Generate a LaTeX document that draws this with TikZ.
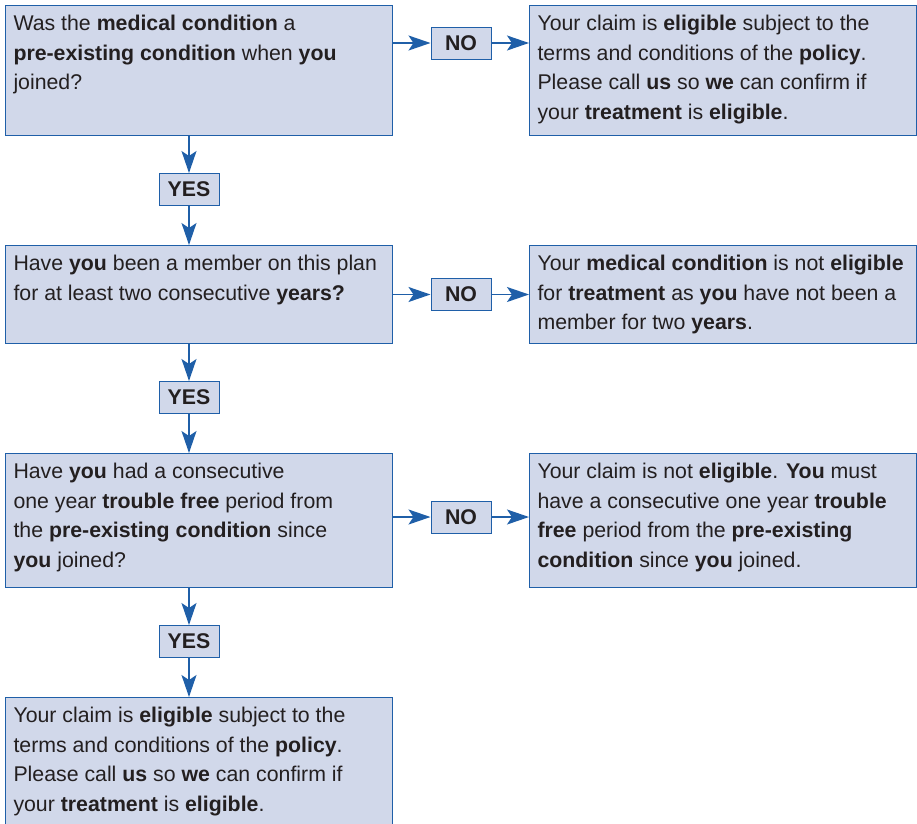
\documentclass[tikz,border=0pt]{standalone}
\usepackage{fontspec}
\setmainfont{Liberation Sans}
\usetikzlibrary{positioning, calc, arrows.meta}

\definecolor{boxfill}{HTML}{D1D8EA}
\definecolor{boxline}{HTML}{1F5FA8}
\definecolor{ink}{HTML}{231F20}

\newcommand{\boxtext}[2]{\parbox[t][#1pt][t]{371pt}{\raggedright\rule{0pt}{25pt}#2}}

\tikzset{
    qbox/.style={draw=boxline, fill=boxfill, line width=1pt, anchor=north west,
        inner xsep=8pt, inner ysep=0pt, text=ink,
        font=\fontsize{21.3}{29.5}\selectfont},
    tag/.style={draw=boxline, fill=boxfill, line width=1pt, minimum width=60pt,
        minimum height=32pt, inner sep=0pt, text=ink,
        font=\fontsize{21.3}{22}\selectfont\bfseries},
    arr/.style={-{Stealth[length=22pt, width=15pt, inset=5pt]}, draw=boxline,
        fill=boxline, line width=1.4pt}
}

\begin{document}
\begin{tikzpicture}[x=1pt, y=-1pt]
    \useasboundingbox (0,0) rectangle (917,823);

    % questions on the left
    \node[qbox] (q1) at (5,5) {\boxtext{130}{Was the \textbf{medical condition} a\\
        \textbf{pre-existing condition} when \textbf{you}\\ joined?}};
    \node[qbox] (q2) at (5,245) {\boxtext{98}{Have \textbf{you} been a member on this plan\\
        for at least two consecutive \textbf{years?}}};
    \node[qbox] (q3) at (5,453) {\boxtext{134}{Have \textbf{you} had a consecutive\\
        one year \textbf{trouble free} period from\\
        the \textbf{pre-existing condition} since\\ \textbf{you} joined?}};
    \node[qbox] (final) at (5,697) {\boxtext{140}{Your claim is \textbf{eligible} subject to the\\
        terms and conditions of the \textbf{policy}.\\
        Please call \textbf{us} so \textbf{we} can confirm if\\
        your \textbf{treatment} is \textbf{eligible}.}};

    % answers on the right
    \node[qbox] (r1) at (529,5) {\boxtext{130}{Your claim is \textbf{eligible} subject to the\\
        terms and conditions of the \textbf{policy}.\\
        Please call \textbf{us} so \textbf{we} can confirm if\\
        your \textbf{treatment} is \textbf{eligible}.}};
    \node[qbox] (r2) at (529,245) {\boxtext{98}{Your \textbf{medical condition} is not \textbf{eligible}\\
        for \textbf{treatment} as \textbf{you} have not been a\\
        member for two \textbf{years}.}};
    \node[qbox] (r3) at (529,453) {\boxtext{134}{Your claim is not \textbf{eligible}. \textbf{You} must\\
        have a consecutive one year \textbf{trouble}\\
        \textbf{free} period from the \textbf{pre-existing}\\
        \textbf{condition} since \textbf{you} joined.}};

    \node[tag] (no1) at (461,43) {NO};
    \node[tag] (no2) at (461,294.5) {NO};
    \node[tag] (no3) at (461,517) {NO};
    \node[tag] (yes1) at (189,189.5) {YES};
    \node[tag] (yes2) at (189,397.5) {YES};
    \node[tag] (yes3) at (189,641.5) {YES};

    \draw[arr] (no1 -| q1.east) -- (no1);
    \draw[arr] (no1) -- (no1 -| r1.west);
    \draw[arr] (no2 -| q2.east) -- (no2);
    \draw[arr] (no2) -- (no2 -| r2.west);
    \draw[arr] (no3 -| q3.east) -- (no3);
    \draw[arr] (no3) -- (no3 -| r3.west);

    \draw[arr] (yes1 |- q1.south) -- (yes1);
    \draw[arr] (yes1) -- (yes1 |- q2.north);
    \draw[arr] (yes2 |- q2.south) -- (yes2);
    \draw[arr] (yes2) -- (yes2 |- q3.north);
    \draw[arr] (yes3 |- q3.south) -- (yes3);
    \draw[arr] (yes3) -- (yes3 |- final.north);
\end{tikzpicture}
\end{document}
